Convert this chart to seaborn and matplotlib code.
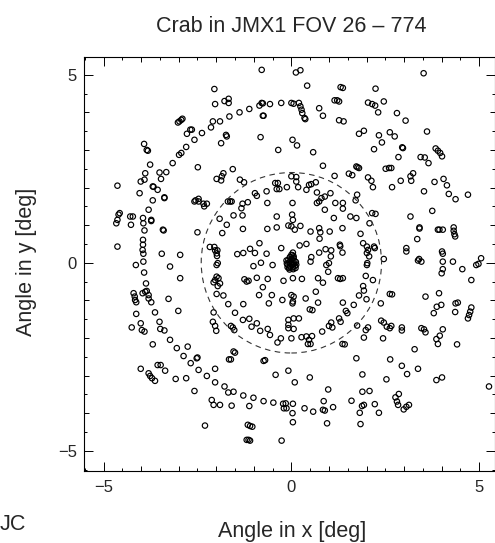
import numpy as np
import matplotlib
matplotlib.use('Agg')
import matplotlib.pyplot as plt
from matplotlib.patches import Circle
from matplotlib.ticker import MultipleLocator, FuncFormatter
import seaborn as sns

title = 'Crab in JMX1 FOV 26 \u2013 774'
x_label = 'Angle in x [deg]'
y_label = 'Angle in y [deg]'
fov_radius = 2.4

# pointings, by quadrant (x, y in deg)
pts_upper_left = [
    (-0.79, 5.13), (-2.05, 4.62), (-2.03, 4.22), (-1.78, 4.30), (-1.67, 4.36), (-1.67, 4.25),
    (-1.65, 3.89), (-1.38, 4.0), (-1.12, 4.09), (-0.85, 4.18), (-0.79, 4.25), (-0.76, 4.24),
    (-0.76, 3.91), (-0.74, 3.91), (-0.57, 4.22), (-0.27, 4.25), (-0.82, 3.34), (-0.35, 3.0),
    (-2.09, 3.76), (-1.90, 3.76), (-2.14, 3.60), (-2.38, 3.45), (-2.58, 3.27), (-2.69, 3.54),
    (-2.65, 3.54), (-2.78, 3.43), (-3.02, 3.73), (-2.98, 3.76), (-2.93, 3.80), (-2.90, 3.83),
    (-1.74, 3.40), (-1.72, 3.36), (-1.87, 3.18), (-2.80, 3.08), (-2.93, 2.92), (-2.99, 2.87),
    (-3.16, 2.65), (-3.92, 3.16), (-3.85, 3.0), (-3.82, 2.98), (-3.76, 2.61), (-3.89, 2.38),
    (-4.01, 2.16), (-3.91, 2.21), (-3.51, 2.40), (-3.33, 2.41), (-3.47, 2.23), (-3.69, 2.03),
    (-3.67, 2.02), (-3.56, 1.94), (-3.69, 1.66), (-3.38, 1.74), (-3.38, 1.72), (-4.04, 1.85),
    (-4.63, 2.05), (-2.49, 2.54), (-1.99, 2.23), (-1.87, 2.19), (-1.85, 2.30), (-1.81, 2.38),
    (-1.56, 2.49), (-1.37, 2.21), (-1.26, 2.14), (-2.58, 1.63), (-2.55, 1.66), (-2.47, 1.70),
    (-2.47, 1.63), (-2.34, 1.57), (-2.25, 1.57), (-2.32, 1.50), (-1.69, 1.63), (-1.63, 1.63),
    (-1.59, 1.63), (-1.30, 1.57), (-1.33, 1.45), (-1.16, 1.61), (-0.97, 1.85), (-0.92, 1.78),
    (-0.66, 1.90), (-0.43, 2.12), (-0.39, 1.96), (-0.32, 1.96), (-0.36, 2.12), (-0.12, 2.01),
    (-0.64, 1.59), (-1.54, 1.26), (-1.30, 1.26), (-1.29, 0.90), (-1.91, 1.17), (-1.72, 1.01),
    (-1.84, 0.79), (-0.39, 1.23), (-0.39, 0.94), (-0.64, 0.90), (-0.08, 0.99), (-0.85, 0.52),
    (-1.10, 0.37), (-0.97, 0.26), (-0.66, 0.24), (-0.27, 0.39), (-1.44, 0.23), (-1.28, 0.26),
    (-2.50, 0.81), (-2.17, 0.42), (-2.05, 0.42), (-2.03, 0.33), (-1.99, 0.25), (-1.97, 0.33),
    (-1.98, 0.18), (-2.96, 0.21), (-3.45, 0.24), (-3.95, 0.61), (-3.95, 0.48), (-3.96, 0.34),
    (-3.94, 0.24), (-3.91, 0.86), (-3.94, 1.05), (-3.95, 1.19), (-3.73, 1.14), (-3.73, 1.11),
    (-3.80, 1.41), (-3.42, 0.88), (-3.40, 0.86), (-4.27, 1.01), (-4.29, 1.23), (-4.22, 1.23),
    (-4.66, 1.05), (-4.63, 1.14), (-4.60, 1.28), (-4.57, 1.32), (-4.63, 0.43),
]

pts_upper_right = [
    (0.12, 5.06), (0.24, 5.12), (3.52, 5.04), (0.42, 4.71), (1.31, 4.67), (1.37, 4.65),
    (2.24, 4.63), (0.0, 4.25), (0.06, 4.23), (0.20, 4.25), (0.24, 4.16), (0.27, 4.07),
    (0.29, 3.98), (0.35, 3.85), (0.37, 3.82), (0.74, 4.11), (0.84, 3.91), (1.15, 4.32),
    (1.22, 4.32), (1.27, 4.29), (1.27, 3.79), (1.39, 3.76), (2.04, 4.26), (2.15, 4.22),
    (2.23, 4.18), (2.31, 4.0), (2.46, 4.29), (2.81, 3.98), (3.04, 3.78), (0.03, 3.27),
    (0.15, 3.12), (0.58, 2.94), (1.80, 3.43), (1.93, 3.51), (2.33, 3.39), (2.41, 3.20),
    (2.20, 3.02), (2.62, 3.47), (2.75, 3.36), (2.95, 3.07), (2.97, 3.05), (3.61, 3.49),
    (2.85, 2.81), (3.44, 2.81), (3.55, 2.80), (3.65, 2.65), (3.84, 3.04), (3.90, 2.98),
    (3.96, 2.92), (4.01, 2.83), (0.84, 2.58), (1.73, 2.56), (1.76, 2.54), (1.80, 2.52),
    (2.51, 2.50), (2.60, 2.52), (2.66, 2.52), (1.53, 2.37), (1.62, 2.33), (1.15, 2.31),
    (2.04, 2.27), (2.13, 2.18), (2.17, 2.01), (2.68, 2.01), (2.91, 2.18), (3.17, 2.30),
    (3.19, 2.18), (3.24, 2.38), (3.81, 2.15), (4.05, 2.23), (4.14, 2.06), (3.53, 1.90),
    (4.19, 1.83), (4.37, 1.69), (4.70, 1.81), (3.75, 1.38), (3.17, 1.23), (2.15, 1.32),
    (2.24, 1.30), (3.41, 0.94), (3.41, 0.91), (3.35, 0.63), (3.90, 0.88), (3.94, 0.88),
    (4.03, 0.88), (4.32, 0.94), (4.32, 0.85), (4.34, 0.76), (4.36, 0.70), (4.01, 0.30),
    (4.03, 0.24), (5.05, 0.12), (3.06, 0.30), (3.06, 0.39), (2.08, 1.05), (1.84, 0.77),
    (1.73, 1.19), (1.75, 1.81), (1.71, 1.66), (0.0, 2.30), (0.13, 2.28), (0.13, 2.16),
    (0.18, 2.01), (0.40, 1.94), (0.47, 2.07), (0.53, 2.09), (0.65, 2.14), (0.68, 1.87),
    (0.80, 1.72), (0.89, 1.76), (1.04, 1.85), (0.68, 1.59), (0.74, 1.63), (0.03, 1.59),
    (0.02, 1.28), (0.04, 1.14), (0.09, 0.88), (0.0, 0.97), (0.24, 0.98), (0.51, 0.83),
    (0.74, 0.92), (0.77, 0.81), (1.02, 0.83), (1.17, 1.59), (1.37, 1.59), (1.37, 1.44),
    (0.89, 1.41), (1.13, 1.19), (1.57, 1.23), (1.36, 0.92), (0.75, 0.64), (1.29, 0.48),
    (1.30, 0.44), (0.91, 0.36), (1.06, 0.33), (0.22, 0.46), (0.40, 0.50), (0.04, 0.27),
    (0.0, 0.21), (0.06, 0.17), (0.74, 0.27), (1.36, 0.27), (1.91, 0.52), (2.01, 0.43),
    (2.04, 0.34), (2.20, 0.43), (2.22, 0.39), (2.01, 0.26), (2.07, 0.17), (2.46, 0.10),
    (3.40, 0.10), (1.05, 0.17), (0.53, 0.15),
]

pts_lower_left = [
    (-3.94, 0.03), (-1.96, -0.01), (-1.99, -0.06), (-4.14, -0.06), (-3.23, -0.10), (-3.92, -0.26),
    (-2.96, -0.41), (-3.87, -0.55), (-4.20, -0.81), (-4.17, -0.90), (-4.16, -0.99), (-4.13, -1.05),
    (-3.89, -0.77), (-3.85, -0.75), (-3.80, -0.86), (-3.80, -0.95), (-3.73, -1.05), (-3.96, -0.81),
    (-3.27, -0.96), (-3.63, -1.32), (-3.01, -1.28), (-4.13, -1.36), (-4.25, -1.72), (-4.01, -1.61),
    (-3.98, -1.79), (-3.91, -1.83), (-3.51, -1.57), (-3.49, -1.76), (-3.38, -1.80), (-3.69, -2.17),
    (-3.23, -2.05), (-3.05, -2.27), (-2.76, -2.23), (-2.87, -2.48), (-2.52, -2.54), (-2.50, -2.52),
    (-2.68, -2.67), (-2.47, -2.85), (-2.03, -2.82), (-2.25, -3.01), (-2.03, -3.18), (-1.78, -3.29),
    (-1.68, -3.45), (-1.54, -3.43), (-1.28, -3.53), (-1.01, -3.59), (-0.74, -3.68), (-0.48, -3.72),
    (-2.58, -3.41), (-2.12, -3.65), (-2.07, -3.78), (-1.90, -3.78), (-1.59, -3.80), (-1.12, -3.81),
    (-4.01, -2.82), (-3.80, -2.94), (-3.76, -3.01), (-3.71, -3.07), (-3.63, -3.14), (-3.56, -2.72),
    (-3.48, -2.72), (-3.36, -2.87), (-3.08, -3.09), (-2.80, -3.07), (-2.30, -4.33), (-1.16, -4.31),
    (-1.10, -4.34), (-1.04, -4.36), (-1.19, -4.71), (-1.14, -4.71), (-1.10, -4.73), (-2.07, -0.52),
    (-2.03, -0.46), (-1.99, -0.37), (-1.94, -0.41), (-1.90, -0.55), (-1.96, -0.62), (-1.99, -0.83),
    (-1.81, -0.87), (-1.68, -1.10), (-2.07, -1.32), (-2.09, -1.57), (-2.03, -1.68), (-2.00, -1.81),
    (-1.50, -1.33), (-1.28, -1.10), (-1.61, -1.68), (-1.56, -1.72), (-1.52, -1.79), (-1.29, -1.52),
    (-1.12, -1.49), (-1.06, -1.70), (-0.92, -1.61), (-0.83, -1.81), (-0.63, -1.76), (-0.57, -1.92),
    (-0.37, -2.12), (-0.28, -2.01), (-0.60, -1.08), (-0.52, -0.86), (-0.86, -0.86), (-0.76, -0.65),
    (-1.25, -0.44), (-1.19, -0.50), (-1.14, -0.48), (-0.92, -0.40), (-0.63, -0.43), (-0.21, -0.48),
    (-0.24, -0.99), (-1.01, -0.09), (-0.81, 0.0), (-0.50, -0.06), (-1.54, -2.36), (-1.50, -2.39),
    (-1.66, -2.57), (-1.61, -2.57), (-0.74, -2.61), (-0.70, -2.59), (-0.42, -2.98), (-0.08, -2.87),
    (-0.08, -1.52), (-0.08, -1.65), (-0.08, -1.74), (-0.26, -4.73),
]

pts_lower_right = [
    (0.51, 0.03), (0.93, -0.06), (1.0, -0.01), (0.98, -0.24), (2.02, -0.01), (2.01, -0.06),
    (1.98, -0.35), (2.17, -0.46), (0.04, -0.41), (0.28, -0.43), (0.71, -0.41), (0.84, -0.53),
    (1.24, -0.41), (1.30, -0.43), (1.37, -0.41), (1.91, -0.62), (1.93, -0.74), (1.80, -0.87),
    (2.0, -0.97), (0.65, -0.77), (0.38, -0.95), (0.71, -1.06), (0.0, -0.86), (0.06, -0.90),
    (0.04, -1.03), (0.03, -1.08), (0.49, -1.24), (0.56, -1.26), (1.37, -1.06), (1.66, -1.12),
    (1.45, -1.28), (1.49, -1.34), (1.27, -1.48), (1.31, -1.57), (1.06, -1.59), (1.0, -1.68),
    (1.09, -1.72), (0.06, -1.48), (0.20, -1.48), (0.06, -1.76), (0.0, -2.01), (0.27, -1.98),
    (0.40, -1.96), (0.55, -1.95), (0.47, -2.05), (0.44, -2.16), (0.51, -2.16), (0.82, -1.83),
    (1.75, -1.67), (1.98, -1.79), (2.04, -1.72), (1.93, -1.99), (1.36, -2.16), (1.42, -2.17),
    (2.38, -1.08), (2.62, -0.83), (2.68, -0.84), (2.39, -1.54), (2.46, -1.59), (2.54, -1.70),
    (2.62, -1.74), (2.66, -1.68), (2.44, -2.01), (2.94, -1.72), (2.94, -1.80), (3.37, 0.06),
    (3.46, 0.03), (4.03, 0.03), (4.03, -0.17), (4.0, -0.28), (4.30, 0.03), (4.55, -0.17),
    (4.92, -0.06), (4.98, -0.03), (4.79, -0.46), (3.57, -0.90), (3.93, -0.81), (3.87, -1.17),
    (3.99, -1.12), (3.79, -1.34), (4.37, -1.08), (4.43, -1.06), (4.36, -1.31), (4.79, -1.19),
    (4.76, -1.30), (4.73, -1.39), (4.70, -1.48), (3.46, -1.74), (3.53, -1.77), (3.57, -1.85),
    (4.03, -1.77), (3.86, -2.03), (3.95, -1.94), (3.90, -2.16), (4.41, -2.17), (3.28, -2.30),
    (1.73, -2.54), (2.63, -2.57), (2.94, -2.74), (3.37, -2.82), (3.08, -2.96), (3.86, -3.12),
    (4.01, -3.05), (5.26, -3.29), (0.49, -3.05), (0.09, -3.18), (1.89, -2.97), (2.53, -3.10),
    (0.98, -3.37), (1.89, -3.43), (2.08, -3.41), (1.60, -3.67), (1.88, -3.81), (1.93, -3.78),
    (2.22, -3.76), (1.82, -3.99), (2.33, -3.99), (2.77, -3.58), (2.86, -3.49), (2.81, -3.69),
    (2.84, -3.78), (2.99, -3.90), (3.06, -3.83), (3.13, -3.78), (-0.22, -3.75), (-0.15, -3.74),
    (0.04, -3.75), (-0.20, -3.87), (-0.13, -3.87), (0.03, -4.0), (0.35, -3.87), (0.58, -3.96),
    (0.84, -3.91), (0.89, -3.93), (1.11, -3.84), (0.86, -3.68), (0.04, -4.24), (0.95, -4.27),
    (1.84, -4.29),
]

# the on-axis pointings, piled up on the source
pts_core = [
    (0.0, 0.0), (-0.05, 0.02), (0.05, -0.02), (-0.10, -0.05), (0.08, 0.05), (-0.03, -0.10),
    (0.04, -0.12), (-0.08, 0.08), (0.10, -0.08), (0.0, 0.10), (-0.12, -0.02), (0.12, 0.02),
    (-0.06, -0.14), (0.06, 0.12), (0.02, -0.06), (-0.02, 0.05), (-0.10, -0.12), (0.11, -0.14),
    (-0.04, 0.15), (0.03, 0.20), (-0.05, -0.18), (0.05, -0.17), (-0.13, 0.06), (0.13, -0.05),
]

pts = np.array(pts_upper_left + pts_upper_right + pts_lower_left + pts_lower_right + pts_core)
xs, ys = pts[:, 0], pts[:, 1]

sns.set_style('ticks')
plt.rcParams['font.family'] = ['Liberation Sans', 'DejaVu Sans']
plt.rcParams['axes.unicode_minus'] = True

fig = plt.figure(figsize=(4.95, 5.43), dpi=100)
ax = fig.add_axes([84 / 495, 72.3 / 543, 411 / 495, 414 / 543])

sns.scatterplot(x=xs, y=ys, ax=ax, marker='o', s=15, facecolor='none',
                edgecolor='black', linewidth=0.85, legend=False)

ax.add_patch(Circle((0, 0), fov_radius, fill=False, color='#333333',
                    lw=0.8, ls=(0, (5, 4))))

ax.set_xlim(-5.52, 5.42)
ax.set_ylim(-5.53, 5.48)

# integer ticks, labels only every 5 deg; half-degree minor ticks
label5 = FuncFormatter(lambda v, p: f'{v:.0f}'.replace('-', '\u2212') if abs(v) % 5 < 1e-6 else '')
for axis in (ax.xaxis, ax.yaxis):
    axis.set_major_locator(MultipleLocator(1))
    axis.set_major_formatter(label5)
    axis.set_minor_locator(MultipleLocator(0.5))
ax.tick_params(which='both', direction='in', top=True, right=True, width=0.7, color='black')
ax.tick_params(which='major', length=3.4, labelsize=12)
ax.tick_params(axis='x', which='major', pad=7)
ax.tick_params(axis='y', which='major', pad=5)
ax.tick_params(which='minor', length=2.0)
for sp in ax.spines.values():
    sp.set_linewidth(0.8)
    sp.set_color('black')
ax.set_xlabel('')
ax.set_ylabel('')

fig.canvas.draw()
for axis in (ax.xaxis, ax.yaxis):
    for tick in axis.get_major_ticks():
        if abs(tick.get_loc()) % 5 < 1e-6:
            tick.tick1line.set_markersize(6.5)
            tick.tick2line.set_markersize(6.5)

fig.text(291.7 / 495, 1 - 32 / 543, title, ha='center', va='baseline', fontsize=15.5)
fig.text(291.7 / 495, 1 - 537 / 543, x_label, ha='center', va='baseline', fontsize=15.5)
fig.text(27 / 495, 1 - 262 / 543, y_label, ha='center', va='center', rotation=90, fontsize=15.5)
fig.text(0.0, 1 - 530 / 543, 'JC', ha='left', va='baseline', fontsize=15.5)

fig.savefig('out.png', dpi=100)
